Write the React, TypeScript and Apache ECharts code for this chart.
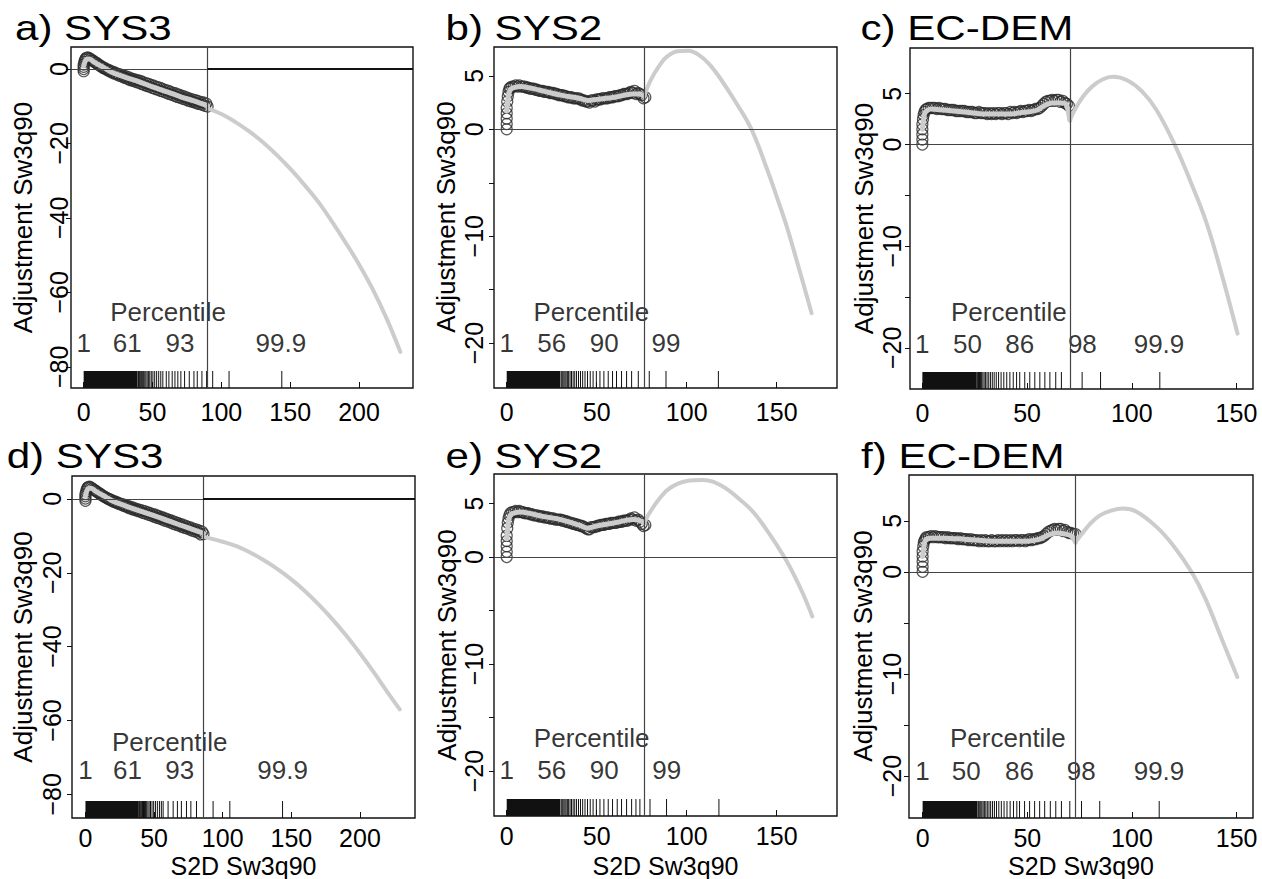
import React, { useEffect, useRef } from 'react';
import * as echarts from 'echarts';

const FONT = '"Liberation Sans", Arial, Helvetica, sans-serif';
const INK = '#000000';

// ---------------- DATA ----------------
const scatterA = [[0,-0.6],[0,0],[0,0.6],[0,1.2],[0.5,1.9],[1,2.4],[1.5,2.8],[2,3.0],[3,3.1],[4,2.9],[5,2.7],[6,2.3],[7,2.2],[8,1.8],[9,1.7],[10,1.3],[11,1.2],[12,0.8],[13,0.7],[14,0.3],[15,0.3],[16,-0.1],[17,-0.1],[18,-0.5],[19,-0.4],[20,-0.9],[21,-0.7],[22,-1.2],[23,-1.0],[24,-1.5],[25,-1.3],[26,-1.8],[27,-1.5],[28,-2.1],[29,-1.8],[30,-2.4],[31,-2.0],[32,-2.7],[33,-2.3],[34,-3.0],[35,-2.6],[36,-3.2],[37,-2.8],[38,-3.5],[39,-3.0],[40,-3.7],[41,-3.2],[42,-4.0],[43,-3.5],[44,-4.3],[45,-3.8],[46,-4.6],[47,-4.0],[48,-4.8],[49,-4.3],[50,-5.1],[51,-4.5],[52,-5.4],[53,-4.8],[54,-5.6],[55,-5.0],[56,-5.9],[57,-5.3],[58,-6.1],[59,-5.6],[60,-6.4],[61,-5.8],[62,-6.7],[63,-6.1],[64,-6.9],[65,-6.4],[66,-7.2],[67,-6.6],[68,-7.5],[69,-6.9],[70,-7.7],[71,-7.2],[72,-8.0],[73,-7.4],[74,-8.2],[75,-7.7],[76,-8.5],[77,-8.0],[78,-8.7],[79,-8.2],[80,-8.9],[81,-8.4],[82,-9.2],[83,-8.6],[84,-9.4],[85,-8.9],[86,-9.6],[87,-9.0],[88,-9.9],[89,-9.3],[90,-10.1]];
const fitA = [[0,0.8],[1,2.0],[2,2.6],[4,2.7],[7,2.0],[10,1.3],[15,0.3],[20,-0.8],[30,-2.2],[40,-3.4],[50,-4.8],[60,-6.1],[70,-7.4],[80,-8.6],[90,-9.9]];
const extA = [[90,-10.6],[100,-12.1],[110,-14.2],[120,-16.7],[130,-19.6],[140,-23.0],[150,-26.8],[160,-31.0],[170,-35.5],[180,-40.8],[190,-46.5],[200,-52.5],[210,-59.2],[220,-67.0],[230,-76.0]];
const rugBlockA = [[0, 38.9]];
const rugA = [39.4,39.9,40.4,41,41.6,42.2,42.9,43.6,44.4,45.2,46.1,47,48,49.1,50.3,51.6,53,54.5,56,57.5,60,61.9,64.3,66.3,68.4,70.6,73.3,76.7,80.1,82.5,85.9,89.3,93.7,105.6,143.9];
const pctA = [['Percentile',61.3,-65.2],['1',0,-73.7],['61',31.6,-73.7],['93',69.9,-73.7],['99.9',143.2,-73.7]];

const scatterB = [[0,0],[0,0.5],[0,1.0],[0,1.5],[0,2.0],[0.3,2.6],[0.6,3.1],[1,3.5],[1.5,3.8],[2,3.9],[3,4.0],[4,4.0],[5,4.1],[6,4.0],[7,4.1],[8,4.0],[9,4.0],[10,4.0],[11,3.9],[12,3.9],[13,3.8],[14,3.8],[15,3.8],[16,3.7],[17,3.7],[18,3.6],[19,3.6],[20,3.6],[21,3.5],[22,3.5],[23,3.5],[24,3.4],[25,3.4],[26,3.4],[27,3.3],[28,3.3],[29,3.2],[30,3.2],[31,3.2],[32,3.1],[33,3.1],[34,3.0],[35,3.0],[36,3.0],[37,2.9],[38,2.9],[39,2.9],[40,2.9],[41,2.8],[42,2.7],[43,2.7],[44,2.6],[45,2.6],[46,2.5],[47,2.7],[48,2.7],[49,2.6],[50,2.8],[51,2.8],[52,2.8],[53,2.9],[54,2.9],[55,2.9],[56,2.9],[57,3.0],[58,3.0],[59,3.0],[60,3.1],[61,3.1],[62,3.1],[63,3.2],[64,3.2],[65,3.3],[66,3.3],[67,3.3],[68,3.4],[69,3.5],[70,3.4],[71,3.6],[72,3.3],[73,3.4],[74,3.3],[75,3.2],[76,2.9],[77,3.0]];
const fitB = [[0,1.7],[1,3.2],[2,3.7],[4,3.9],[8,4.0],[12,3.9],[20,3.6],[30,3.2],[40,2.9],[45,2.7],[50,2.8],[60,3.0],[70,3.3],[74,3.3],[76.3,3.1]];
const extB = [[76.3,3.05],[80,4.6],[85,6.0],[89,6.8],[95,7.3],[101,7.35],[108,6.8],[113,6.0],[118.5,4.8],[127,2.6],[136,0],[145,-3.9],[150,-6.3],[155.6,-9.1],[162,-12.8],[169.4,-17.2]];
const rugBlockB = [[0, 29.7]];
const rugB = [30.2,30.7,31.2,31.8,32.4,33,33.7,34.4,35.2,36,36.9,37.8,38.8,39.9,41,42.2,43.5,44.9,46.4,48,49.8,51.8,54,56.4,58.8,61,63.8,66.6,69.4,73.1,79.2,88.5,117.6];
const pctB = [['Percentile',47,-17.05],['1',0,-20],['56',25,-20],['90',54.2,-20],['99',88.5,-20]];

const scatterC = [[0,0],[0,0.5],[0,1.0],[0,1.5],[0,2.0],[0.3,2.5],[0.6,2.9],[1,3.2],[1.5,3.4],[2,3.5],[3,3.6],[4,3.6],[5,3.6],[6,3.6],[7,3.5],[8,3.6],[9,3.5],[10,3.5],[11,3.5],[12,3.4],[13,3.4],[14,3.4],[15,3.4],[16,3.3],[17,3.3],[18,3.3],[19,3.3],[20,3.3],[21,3.2],[22,3.2],[23,3.2],[24,3.2],[25,3.1],[26,3.1],[27,3.2],[28,3.1],[29,3.1],[30,3.1],[31,3.0],[32,3.1],[33,3.0],[34,3.1],[35,3.0],[36,3.1],[37,3.1],[38,3.0],[39,3.1],[40,3.1],[41,3.0],[42,3.2],[43,3.1],[44,3.2],[45,3.1],[46,3.2],[47,3.3],[48,3.2],[49,3.3],[50,3.3],[51,3.4],[52,3.3],[53,3.4],[54,3.5],[55,3.5],[56,3.6],[57,3.8],[58,4.0],[59,4.2],[60,4.3],[61,4.3],[62,4.4],[63,4.3],[64,4.4],[65,4.4],[66,4.2],[67,4.3],[68,4.1],[69,4.0],[70,3.8]];
const fitC = [[0,1.5],[1,3.0],[2,3.3],[4,3.5],[10,3.4],[20,3.2],[30,3.0],[40,3.0],[50,3.2],[55,3.4],[58,3.8],[62,4.1],[66,4.1],[68.5,4.0],[70.4,2.4]];
const extC = [[70.4,2.4],[73,3.5],[77,4.8],[81,5.7],[86,6.4],[91,6.66],[98,6.3],[105,5.2],[111.8,3.4],[120.5,0],[128,-3.6],[135.7,-7.7],[143,-12.8],[150.5,-18.6]];
const rugBlockC = [[0, 26]];
const rugC = [26.4,26.8,27.3,27.8,28.3,28.9,29.5,30.2,30.9,31.7,32.5,33.4,34.3,35.3,36.4,37.6,38.9,40.3,41.8,43.4,45,46.5,48.9,51.3,53.7,56.1,58.5,60.9,63.7,66.4,76.3,85.1,113.4];
const pctC = [['Percentile',41.3,-16.5],['1',0,-19.6],['50',21.5,-19.6],['86',46.5,-19.6],['98',76.4,-19.6],['99.9',113,-19.6]];

const scatterD = [[0,-0.5],[0,0.1],[0,0.7],[0,1.3],[0.5,2.0],[1,2.6],[1.5,3.0],[2,3.2],[3,3.3],[4,3.1],[5,2.8],[6,2.5],[7,2.3],[8,2.0],[9,1.8],[10,1.5],[11,1.3],[12,1.0],[13,0.8],[14,0.5],[15,0.4],[16,0.1],[17,0.0],[18,-0.3],[19,-0.3],[20,-0.7],[21,-0.6],[22,-1.0],[23,-0.9],[24,-1.3],[25,-1.2],[26,-1.6],[27,-1.4],[28,-1.9],[29,-1.7],[30,-2.2],[31,-1.9],[32,-2.5],[33,-2.2],[34,-2.8],[35,-2.4],[36,-3.0],[37,-2.7],[38,-3.3],[39,-2.9],[40,-3.5],[41,-3.1],[42,-3.8],[43,-3.3],[44,-4.0],[45,-3.6],[46,-4.3],[47,-3.8],[48,-4.5],[49,-4.1],[50,-4.8],[51,-4.3],[52,-5.1],[53,-4.6],[54,-5.3],[55,-4.9],[56,-5.6],[57,-5.1],[58,-5.9],[59,-5.4],[60,-6.1],[61,-5.7],[62,-6.4],[63,-5.9],[64,-6.7],[65,-6.2],[66,-7.0],[67,-6.5],[68,-7.2],[69,-6.8],[70,-7.5],[71,-7.0],[72,-7.8],[73,-7.3],[74,-8.0],[75,-7.6],[76,-8.3],[77,-7.8],[78,-8.6],[79,-8.1],[80,-8.8],[81,-8.3],[82,-9.1],[83,-8.6],[84,-9.6],[85,-8.9],[86,-9.5]];
const fitD = [[0,0.8],[1,2.2],[2,2.8],[4,2.9],[7,2.2],[10,1.5],[15,0.5],[20,-0.6],[30,-2.0],[40,-3.3],[50,-4.5],[60,-5.9],[70,-7.2],[80,-8.5],[86,-9.3]];
const extD = [[86,-10.2],[100,-11.6],[110,-12.8],[120,-14.5],[130,-16.6],[140,-19.0],[150,-21.8],[160,-25.0],[170,-28.6],[180,-32.6],[190,-37.0],[200,-41.8],[210,-46.9],[220,-52.3],[229,-57.0]];
const rugBlockD = [[0, 38.3]];
const rugD = [38.8,39.3,39.8,40.4,41,41.6,42.3,43,43.8,44.6,45.5,46.4,47.4,48.5,49.7,51,52.4,53.9,55.3,56.6,60.2,63.9,67,69.9,73.6,76.8,80.9,93,105.2,143.6];
const pctD = [['Percentile',61.4,-65.8],['1',0,-73.3],['61',30.6,-73.3],['93',68.7,-73.3],['99.9',143.6,-73.3]];

const scatterE = [[0,0],[0,0.5],[0,1.0],[0,1.5],[0,2.0],[0.3,2.7],[0.6,3.2],[1,3.6],[1.5,3.9],[2,4.1],[3,4.2],[4,4.2],[5,4.3],[6,4.2],[7,4.3],[8,4.2],[9,4.2],[10,4.1],[11,4.1],[12,4.1],[13,4.0],[14,4.0],[15,3.9],[16,3.9],[17,3.9],[18,3.8],[19,3.8],[20,3.8],[21,3.7],[22,3.7],[23,3.7],[24,3.6],[25,3.6],[26,3.6],[27,3.5],[28,3.5],[29,3.5],[30,3.5],[31,3.4],[32,3.4],[33,3.3],[34,3.3],[35,3.2],[36,3.2],[37,3.1],[38,3.1],[39,3.0],[40,3.0],[41,2.9],[42,2.9],[43,2.8],[44,2.7],[45,2.6],[46,2.6],[47,2.8],[48,2.8],[49,2.8],[50,2.9],[51,2.9],[52,3.0],[53,3.0],[54,3.0],[55,3.1],[56,3.1],[57,3.1],[58,3.2],[59,3.2],[60,3.2],[61,3.2],[62,3.3],[63,3.3],[64,3.3],[65,3.4],[66,3.4],[67,3.4],[68,3.5],[69,3.6],[70,3.5],[71,3.7],[72,3.4],[73,3.5],[74,3.3],[75,3.1],[76,2.9],[77,3.0]];
const fitE = [[0,1.7],[1,3.3],[2,3.9],[4,4.1],[8,4.2],[12,4.1],[20,3.8],[30,3.5],[40,3.0],[45,2.7],[50,2.9],[60,3.2],[70,3.5],[74,3.4],[76.3,3.2]];
const extE = [[76.3,3.2],[80,4.3],[85,5.5],[90.7,6.45],[100,7.1],[109,7.2],[120,6.6],[130,5.3],[137,4.2],[145,2.4],[154.2,0],[160,-1.8],[164.8,-3.5],[169.8,-5.55]];
const rugBlockE = [[0, 29.7]];
const rugE = [30.2,30.7,31.2,31.8,32.4,33,33.7,34.4,35.2,36,36.9,37.8,38.8,39.9,41,42.2,43.5,44.9,46.4,48,49.8,51.8,54,56.4,58.8,61.4,63.8,66.6,69.4,71.8,74,79.6,88.8,117.9];
const pctE = [['Percentile',47.2,-16.9],['1',0,-19.9],['56',25,-19.9],['90',54.2,-19.9],['99',88.9,-19.9]];

const scatterF = [[0,0],[0,0.5],[0,1.0],[0,1.5],[0,2.0],[0.3,2.5],[0.6,2.9],[1,3.1],[1.5,3.3],[2,3.4],[3,3.4],[4,3.5],[5,3.4],[6,3.5],[7,3.4],[8,3.4],[9,3.4],[10,3.4],[11,3.3],[12,3.4],[13,3.3],[14,3.3],[15,3.3],[16,3.3],[17,3.2],[18,3.3],[19,3.2],[20,3.2],[21,3.2],[22,3.1],[23,3.2],[24,3.1],[25,3.1],[26,3.1],[27,3.0],[28,3.1],[29,3.0],[30,3.1],[31,3.0],[32,3.0],[33,3.1],[34,3.0],[35,3.0],[36,3.1],[37,3.0],[38,3.1],[39,3.0],[40,3.1],[41,3.0],[42,3.1],[43,3.0],[44,3.1],[45,3.1],[46,3.0],[47,3.1],[48,3.1],[49,3.0],[50,3.1],[51,3.2],[52,3.1],[53,3.2],[54,3.2],[55,3.3],[56,3.3],[57,3.4],[58,3.5],[59,3.7],[60,3.9],[61,4.0],[62,4.1],[63,4.2],[64,4.1],[65,4.2],[66,4.2],[67,4.0],[68,4.1],[69,3.9],[70,3.8],[71,3.8],[72,3.7],[73,3.7]];
const fitF = [[0,1.5],[1,2.9],[2,3.2],[4,3.3],[10,3.3],[20,3.2],[35,3.0],[50,3.0],[56,3.2],[60,3.6],[64,3.8],[68,3.7],[71,3.5],[73,2.9]];
const extF = [[73,2.9],[76,3.7],[80,4.7],[84.5,5.5],[90,6.0],[95.8,6.2],[102,5.9],[111.7,4.4],[119.6,2.6],[128.4,0],[135,-2.6],[143.5,-6.9],[150.3,-10.3]];
const rugBlockF = [[0, 26]];
const rugF = [26.4,26.8,27.3,27.8,28.3,28.9,29.5,30.2,30.9,31.7,32.5,33.4,34.3,35.3,36.4,37.6,38.9,40.3,41.8,43.4,45,46.3,48.7,51.1,53.5,55.9,58.3,61,63.6,66.3,70.3,75.9,84.6,113];
const pctF = [['Percentile',40.7,-16.3],['1',0,-19.45],['50',20.8,-19.45],['86',46.3,-19.45],['98',75.8,-19.45],['99.9',112.9,-19.45]];

const titles = ['a) SYS3', 'b) SYS2', 'c) EC-DEM', 'd) SYS3', 'e) SYS2', 'f) EC-DEM'];
const vlines = [90, 76.3, 70.4, 85.7, 76.3, 73.1];
const xTicksWide = [0, 50, 100, 150, 200];
const xTicksNarrow = [0, 50, 100, 150];
const yTicksSys3 = [0, -20, -40, -60, -80];
const yTicksSmall = [5, 0, -5, -10, -15, -20];
const yLabelsSmall = [5, 0, -10, -20];
const yName = 'Adjustment Sw3q90';
const xName = 'S2D Sw3q90';

// ---------------- LAYOUT ----------------
const LAYOUT = [
  { grid: { left: 71, top: 47, width: 342, height: 341 }, x: [-9.2, 239.2], y: [-85.7, 5.9], yMargin: 0, xMargin: 11, title: [15, 27.8], yName: [23, 217.5] },
  { grid: { left: 494, top: 47, width: 343, height: 341 }, x: [-7.06, 183.5], y: [-24.2, 7.7], yMargin: 8, xMargin: 11, title: [445.5, 27.8], yName: [446, 217] },
  { grid: { left: 910, top: 48, width: 343, height: 341 }, x: [-5.9, 157.9], y: [-24.05, 9.5], yMargin: 6, xMargin: 11, title: [860.5, 27.8], yName: [864, 218.5] },
  { grid: { left: 72, top: 476, width: 343, height: 342 }, x: [-9.8, 240.1], y: [-86.4, 6.2], yMargin: 8, xMargin: 7, title: [6.7, 455.7], yName: [23, 647] },
  { grid: { left: 494, top: 474, width: 343, height: 342 }, x: [-7.06, 183.5], y: [-24.2, 7.76], yMargin: 8, xMargin: 7, title: [445.5, 455.7], yName: [447, 645] },
  { grid: { left: 909, top: 475, width: 344, height: 343 }, x: [-6.5, 157.8], y: [-24.1, 9.48], yMargin: 5, xMargin: 7, title: [861, 455.7], yName: [863, 646] },
];

const PANELS = [
  { scatter: scatterA, fit: fitA, ext: extA, block: rugBlockA, rug: rugA, pct: pctA, xTicks: xTicksWide, yTicks: yTicksSys3, yLabels: yTicksSys3, zeroSeg: true, bottom: false },
  { scatter: scatterB, fit: fitB, ext: extB, block: rugBlockB, rug: rugB, pct: pctB, xTicks: xTicksNarrow, yTicks: yTicksSmall, yLabels: yLabelsSmall, zeroSeg: false, bottom: false },
  { scatter: scatterC, fit: fitC, ext: extC, block: rugBlockC, rug: rugC, pct: pctC, xTicks: xTicksNarrow, yTicks: yTicksSmall, yLabels: yLabelsSmall, zeroSeg: false, bottom: false },
  { scatter: scatterD, fit: fitD, ext: extD, block: rugBlockD, rug: rugD, pct: pctD, xTicks: xTicksWide, yTicks: yTicksSys3, yLabels: yTicksSys3, zeroSeg: true, bottom: true },
  { scatter: scatterE, fit: fitE, ext: extE, block: rugBlockE, rug: rugE, pct: pctE, xTicks: xTicksNarrow, yTicks: yTicksSmall, yLabels: yLabelsSmall, zeroSeg: false, bottom: true },
  { scatter: scatterF, fit: fitF, ext: extF, block: rugBlockF, rug: rugF, pct: pctF, xTicks: xTicksNarrow, yTicks: yTicksSmall, yLabels: yLabelsSmall, zeroSeg: false, bottom: true },
];

const RUG_H = 17;
const fmt = (v: number) => (v < 0 ? '\u2212' + Math.abs(v) : String(v));

function buildOption() {
  const grid: any[] = [];
  const xAxis: any[] = [];
  const yAxis: any[] = [];
  const series: any[] = [];
  const graphic: any[] = [];

  PANELS.forEach((p, i) => {
    const L = LAYOUT[i];
    grid.push({ ...L.grid, show: true, borderColor: '#111', borderWidth: 1.4, backgroundColor: 'transparent', containLabel: false });
    xAxis.push({
      type: 'value', gridIndex: i, min: L.x[0], max: L.x[1], position: 'bottom',
      axisLine: { show: false, onZero: false }, splitLine: { show: false },
      axisTick: { show: true, inside: true, length: 6, lineStyle: { color: '#111', width: 1 }, customValues: p.xTicks },
      axisLabel: { show: true, margin: L.xMargin, fontSize: 25, fontFamily: FONT, color: INK, customValues: p.xTicks, formatter: fmt },
    });
    yAxis.push({
      type: 'value', gridIndex: i, min: L.y[0], max: L.y[1], position: 'left',
      axisLine: { show: false, onZero: false }, splitLine: { show: false },
      axisTick: { show: true, inside: false, length: 5, lineStyle: { color: '#111', width: 1 }, customValues: p.yTicks },
      axisLabel: { show: true, rotate: 90, margin: L.yMargin, fontSize: 25, fontFamily: FONT, color: INK, customValues: p.yLabels, formatter: fmt },
    });
    const yMin = L.y[0];

    // rug block
    series.push({
      type: 'custom', xAxisIndex: i, yAxisIndex: i, silent: true, clip: false,
      data: p.block.map((b) => [b[0], b[1], yMin]),
      encode: { x: [0, 1], y: 2 },
      renderItem: (params: any, api: any) => {
        const p0 = api.coord([api.value(0), api.value(2)]);
        const p1 = api.coord([api.value(1), api.value(2)]);
        return { type: 'rect', shape: { x: p0[0], y: p0[1] - RUG_H, width: p1[0] - p0[0], height: RUG_H }, style: { fill: '#111' } };
      },
    });
    // rug ticks
    series.push({
      type: 'custom', xAxisIndex: i, yAxisIndex: i, silent: true, clip: false,
      data: p.rug.map((v) => [v, yMin]),
      encode: { x: 0, y: 1 },
      renderItem: (params: any, api: any) => {
        const c = api.coord([api.value(0), api.value(1)]);
        return { type: 'line', shape: { x1: c[0], y1: c[1], x2: c[0], y2: c[1] - RUG_H }, style: { stroke: '#111', lineWidth: 1 } };
      },
    });
    // reference lines
    const mlData: any[] = [
      { yAxis: 0, lineStyle: { color: '#444', width: 1, type: 'solid' } },
      { xAxis: vlines[i], lineStyle: { color: '#444', width: 1.2, type: 'solid' } },
    ];
    if (p.zeroSeg) {
      mlData.push([
        { coord: [vlines[i], 0], lineStyle: { color: '#111', width: 2, type: 'solid' } },
        { coord: [L.x[1], 0] },
      ]);
    }
    series.push({
      type: 'line', xAxisIndex: i, yAxisIndex: i, data: [], silent: true,
      markLine: { silent: true, symbol: ['none', 'none'], label: { show: false }, animation: false, data: mlData },
    });
    // scatter
    series.push({
      type: 'scatter', xAxisIndex: i, yAxisIndex: i, data: p.scatter, symbol: 'circle', symbolSize: 11, silent: true,
      itemStyle: { color: 'rgba(0,0,0,0)', borderColor: '#2a2a2a', borderWidth: 1.2 },
    });
    // fitted line over data
    series.push({
      type: 'line', xAxisIndex: i, yAxisIndex: i, data: p.fit, smooth: 0.3, showSymbol: false, symbol: 'none', silent: true,
      lineStyle: { color: '#cccccc', width: 5, cap: 'round', join: 'round' },
    });
    // extrapolated curve
    series.push({
      type: 'line', xAxisIndex: i, yAxisIndex: i, data: p.ext, smooth: 0.4, showSymbol: false, symbol: 'none', silent: true,
      lineStyle: { color: '#cccccc', width: 4, cap: 'round', join: 'round' },
    });
    // percentile labels
    series.push({
      type: 'scatter', xAxisIndex: i, yAxisIndex: i, silent: true, symbolSize: 1,
      itemStyle: { color: 'rgba(0,0,0,0)' },
      labelLayout: { hideOverlap: false },
      data: p.pct.map((t) => ({ name: t[0], value: [t[1], t[2]] })),
      label: { show: true, position: 'inside', formatter: (q: any) => q.name, fontSize: 26, fontFamily: FONT, color: INK },
    });

    // texts
    graphic.push({
      type: 'text', x: L.title[0], y: L.title[1], scaleX: 1.17, silent: true,
      style: { text: titles[i], fontSize: 36, fontFamily: FONT, fill: INK, align: 'left', verticalAlign: 'middle', textAlign: 'left', textVerticalAlign: 'middle' },
    });
    graphic.push({
      type: 'text', x: L.yName[0], y: L.yName[1], rotation: Math.PI / 2, silent: true,
      style: { text: yName, fontSize: 26, fontFamily: FONT, fill: INK, align: 'center', verticalAlign: 'middle', textAlign: 'center', textVerticalAlign: 'middle' },
    });
    if (p.bottom) {
      graphic.push({
        type: 'text', x: L.grid.left + L.grid.width / 2, y: 866, silent: true,
        style: { text: xName, fontSize: 25, fontFamily: FONT, fill: INK, align: 'center', verticalAlign: 'middle', textAlign: 'center', textVerticalAlign: 'middle' },
      });
    }
  });

  return { animation: false, backgroundColor: '#ffffff', textStyle: { fontFamily: FONT }, grid, xAxis, yAxis, series, graphic };
}

export default function App() {
  const ref = useRef<HTMLDivElement>(null);
  useEffect(() => {
    if (!ref.current) return;
    const chart = echarts.init(ref.current, null, { renderer: 'svg' });
    chart.setOption(buildOption() as any);
    return () => chart.dispose();
  }, []);
  return <div ref={ref} style={{ position: 'absolute', left: 0, top: 0, width: 1262, height: 879, background: '#fff' }} />;
}
